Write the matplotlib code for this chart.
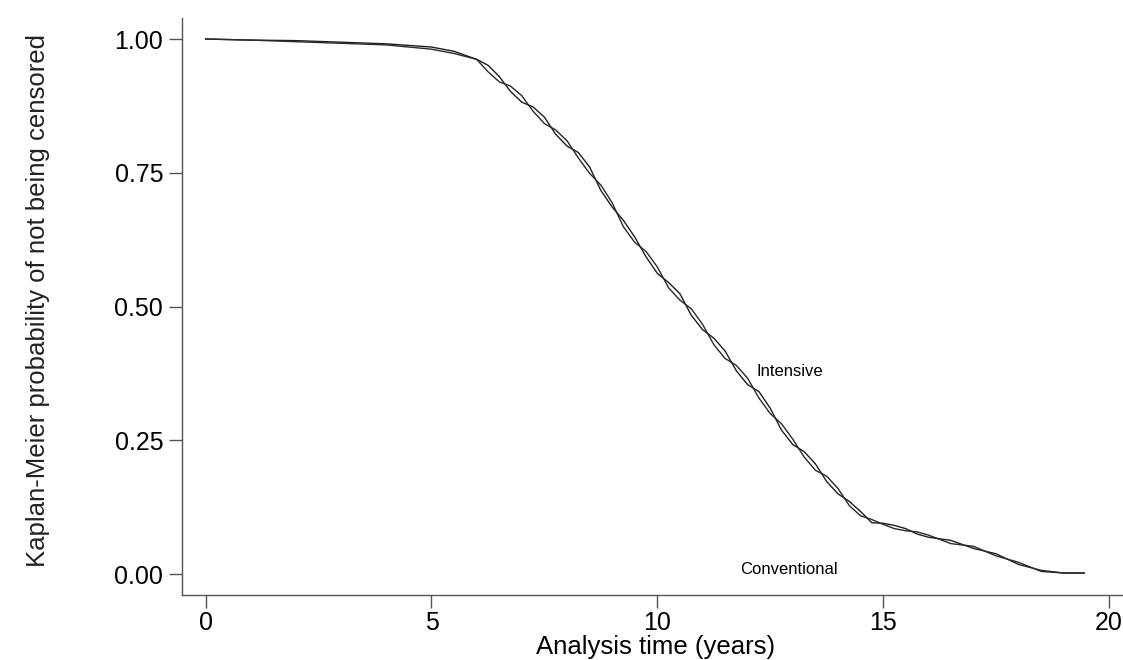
import matplotlib
matplotlib.use("Agg")
import matplotlib.pyplot as plt

plt.rcParams['font.family'] = ['Liberation Sans', 'DejaVu Sans']

# Kaplan-Meier estimates (years, probability)
years = [0, 1, 2, 3, 4, 5, 5.5, 6, 6.25, 6.5, 6.75, 7, 7.25, 7.5, 7.75, 8,
         8.25, 8.5, 8.75, 9, 9.25, 9.5, 9.75, 10, 10.25, 10.5, 10.75, 11,
         11.25, 11.5, 11.75, 12, 12.25, 12.5, 12.75, 13, 13.25, 13.5, 13.75,
         14, 14.25, 14.5, 14.75, 15, 15.25, 15.5, 15.75, 16, 16.5, 17, 17.5,
         18, 18.5, 19, 19.45]

intensive = [1.000, 0.998, 0.997, 0.994, 0.991, 0.985, 0.977, 0.962,
             0.951, 0.930, 0.902, 0.882, 0.873, 0.854, 0.822, 0.800, 0.788,
             0.761, 0.717, 0.686, 0.661, 0.630, 0.593, 0.562, 0.545, 0.524,
             0.484, 0.457, 0.441, 0.417, 0.380, 0.354, 0.341, 0.310, 0.269,
             0.242, 0.229, 0.206, 0.173, 0.150, 0.136, 0.117, 0.096,
             0.095, 0.091, 0.085, 0.075, 0.069, 0.063, 0.048, 0.038, 0.018,
             0.007, 0.002, 0.002]

conventional = [1.000, 0.998, 0.995, 0.992, 0.989, 0.981, 0.973, 0.962,
                0.939, 0.920, 0.912, 0.894, 0.865, 0.842, 0.830, 0.810, 0.778,
                0.749, 0.727, 0.694, 0.649, 0.620, 0.603, 0.574, 0.535, 0.512,
                0.496, 0.467, 0.429, 0.403, 0.390, 0.366, 0.329, 0.300, 0.281,
                0.252, 0.219, 0.194, 0.183, 0.160, 0.128, 0.109, 0.102,
                0.093, 0.085, 0.081, 0.079, 0.073, 0.057, 0.052, 0.034, 0.022,
                0.005, 0.002, 0.002]

x_ticks = [0, 5, 10, 15, 20]
y_ticks = [0.0, 0.25, 0.5, 0.75, 1.0]
y_tick_labels = ['0.00', '0.25', '0.50', '0.75', '1.00']

fig = plt.figure(figsize=(11.23, 6.6), dpi=100)
ax = fig.add_axes([0.162, 0.0985, 0.838, 0.874])

ax.plot(years, intensive, color='#1e1e1e', lw=1.0)
ax.plot(years, conventional, color='#2a2a2a', lw=1.0)

ax.text(12.2, 0.379, 'Intensive', fontsize=12, va='center', ha='left')
ax.text(11.83, 0.009, 'Conventional', fontsize=12, va='center', ha='left')

ax.set_xlim(-0.525, 20.31)
ax.set_ylim(-0.039, 1.039)
ax.set_xticks(x_ticks)
ax.set_yticks(y_ticks)
ax.set_yticklabels(y_tick_labels)

for side in ['top', 'right']:
    ax.spines[side].set_visible(False)
for side in ['left', 'bottom']:
    ax.spines[side].set_color('#555555')
    ax.spines[side].set_linewidth(1.0)

ax.tick_params(axis='both', direction='out', length=9.5, width=1.0,
               color='#555555', labelsize=18)
ax.tick_params(axis='y', pad=4)
ax.tick_params(axis='x', pad=2)

ax.set_xlabel('Analysis time (years)', fontsize=18.5)
ax.xaxis.set_label_coords(0.503, -0.07)
ax.set_ylabel('Kaplan-Meier probability of not being censored',
              fontsize=18.5, color='#222222')
ax.yaxis.set_label_coords(-0.153, 0.511)
ax.yaxis.label.set_va('center')

fig.savefig('out.png', dpi=100)
